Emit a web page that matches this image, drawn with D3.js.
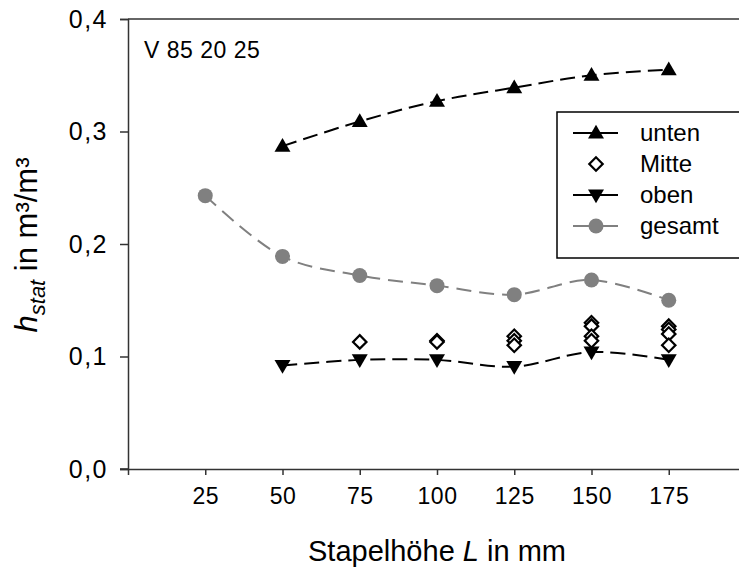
<!DOCTYPE html>
<html><head><meta charset="utf-8">
<script src="https://cdn.jsdelivr.net/npm/d3@7"></script>
<style>body{margin:0;background:#fff}svg{display:block;font-family:"Liberation Sans",Arial,sans-serif}</style>
</head><body><svg id="c" width="739" height="574"></svg>
<script>
const xTicks = [25, 50, 75, 100, 125, 150, 175];
const yTicks = [0, 0.1, 0.2, 0.3, 0.4];
const untenX = [50, 75, 100, 125, 150, 175];
const untenY = [0.287, 0.309, 0.327, 0.339, 0.350, 0.355];
const obenX = [50, 75, 100, 125, 150, 175];
const obenY = [0.092, 0.097, 0.097, 0.091, 0.104, 0.097];
const gesamtX = [25, 50, 75, 100, 125, 150, 175];
const gesamtY = [0.243, 0.189, 0.172, 0.163, 0.155, 0.168, 0.150];
const mitteX = [75, 100, 100, 125, 125, 125, 150, 150, 150, 150, 175, 175, 175, 175];
const mitteY = [0.113, 0.114, 0.113, 0.118, 0.114, 0.110, 0.130, 0.127, 0.118, 0.114, 0.127, 0.124, 0.120, 0.110];
const legendLabels = ["unten", "Mitte", "oben", "gesamt"];

const svg = d3.select("#c");
const x = d3.scaleLinear().domain([0, 200]).range([128, 746]);
const y = d3.scaleLinear().domain([0, 0.4]).range([469, 19]);
const fmt = d => d3.format(".1f")(d).replace(".", ",");

// axes
const yAx = svg.append("g").attr("transform", "translate(128,0)")
  .call(d3.axisLeft(y).tickValues(yTicks).tickSize(8).tickPadding(12).tickFormat(fmt));
yAx.selectAll("text").attr("font-size", 25).attr("letter-spacing", 1.5).attr("fill", "#000").attr("font-family", "Liberation Sans");
const xAx = svg.append("g").attr("transform", "translate(0,469)")
  .call(d3.axisBottom(x).tickValues(xTicks).tickSize(6).tickPadding(13).tickFormat(d3.format("d")));
xAx.selectAll("text").attr("font-size", 23).attr("letter-spacing", 0.5).attr("fill", "#000").attr("font-family", "Liberation Sans");
[yAx, xAx].forEach(a => { a.select(".domain").attr("stroke", "#333").attr("stroke-width", 1.5);
  a.selectAll(".tick line").attr("stroke", "#333").attr("stroke-width", 1.5); });
svg.append("line").attr("x1", 128).attr("x2", 746).attr("y1", y(0.4)).attr("y2", y(0.4)).attr("stroke", "#333").attr("stroke-width", 1.5);
svg.append("line").attr("x1", 120).attr("x2", 128).attr("y1", y(0)).attr("y2", y(0)).attr("stroke", "#333").attr("stroke-width", 1.5);

// titles
svg.append("text").attr("x", 437).attr("y", 561).attr("text-anchor", "middle").attr("font-size", 29)
  .html('Stapelhöhe <tspan font-style="italic">L</tspan> in mm');
svg.append("text").attr("transform", "translate(37,245) rotate(-90)").attr("text-anchor", "middle").attr("font-size", 31)
  .html('<tspan font-style="italic">h</tspan><tspan font-style="italic" font-size="22" dy="8">stat</tspan><tspan dy="-8"> in m³/m³</tspan>');
svg.append("text").attr("x", 144).attr("y", 58).attr("font-size", 23).attr("letter-spacing", 0.5).text("V 85 20 25");

// lines
const line = d3.line().curve(d3.curveCatmullRom.alpha(0.5)).x(d => x(d[0])).y(d => y(d[1]));
function series(xs, ys, color, dash) {
  svg.append("path").datum(xs.map((v, i) => [v, ys[i]])).attr("d", line)
    .attr("fill", "none").attr("stroke", color).attr("stroke-width", 2).attr("stroke-dasharray", dash);
}
series(gesamtX, gesamtY, "#808080", "15,8");
series(untenX, untenY, "#000", "15,7");
series(obenX, obenY, "#000", "15,7");

const tri = d3.symbol().type(d3.symbolTriangle).size(110);
function triangles(xs, ys, down) {
  svg.append("g").selectAll("path").data(xs.map((v, i) => [v, ys[i]])).join("path")
    .attr("d", tri).attr("fill", "#000")
    .attr("transform", d => `translate(${x(d[0])},${y(d[1]) + (down ? -1 : 1)}) rotate(${down ? 180 : 0})`);
}
triangles(untenX, untenY, false);
triangles(obenX, obenY, true);
svg.append("g").selectAll("circle").data(gesamtX.map((v, i) => [v, gesamtY[i]])).join("circle")
  .attr("cx", d => x(d[0])).attr("cy", d => y(d[1])).attr("r", 7.5).attr("fill", "#808080");
const dia = d3.symbol().type(d3.symbolSquare).size(90);
svg.append("g").selectAll("path").data(mitteX.map((v, i) => [v, mitteY[i]])).join("path")
  .attr("d", dia).attr("fill", "#fff").attr("stroke", "#000").attr("stroke-width", 2.2)
  .attr("transform", d => `translate(${x(d[0])},${y(d[1])}) rotate(45)`);

// legend
const lg = svg.append("g");
lg.append("rect").attr("x", 557).attr("y", 112).attr("width", 200).attr("height", 146)
  .attr("fill", "#fff").attr("stroke", "#000").attr("stroke-width", 1.5);
const ly = [133, 164, 195, 226];
legendLabels.forEach((lab, i) => {
  const cy = ly[i];
  const col = i === 3 ? "#808080" : "#000";
  if (i !== 1) lg.append("line").attr("x1", 573).attr("x2", 618).attr("y1", cy).attr("y2", cy).attr("stroke", col).attr("stroke-width", 2);
  if (i === 0) lg.append("path").attr("d", tri).attr("fill", "#000").attr("transform", `translate(596,${cy + 1})`);
  if (i === 2) lg.append("path").attr("d", tri).attr("fill", "#000").attr("transform", `translate(596,${cy - 1}) rotate(180)`);
  if (i === 1) lg.append("path").attr("d", dia).attr("fill", "#fff").attr("stroke", "#000").attr("stroke-width", 2.2).attr("transform", `translate(596,${cy}) rotate(45)`);
  if (i === 3) lg.append("circle").attr("cx", 596).attr("cy", cy).attr("r", 7.5).attr("fill", "#808080");
  lg.append("text").attr("x", 640).attr("y", cy + 8).attr("font-size", 24).text(lab);
});
</script></body></html>
